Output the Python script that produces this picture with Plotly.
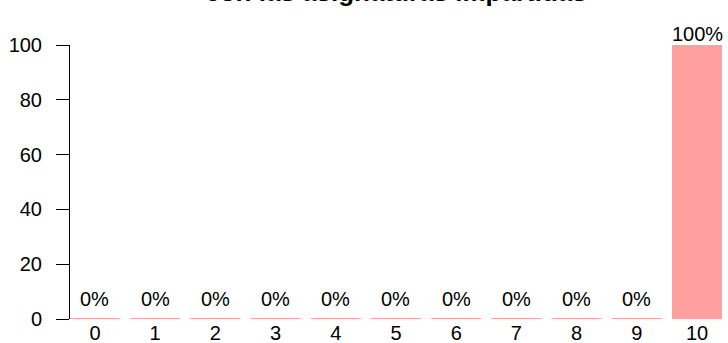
import plotly.graph_objects as go

categories = [0, 1, 2, 3, 4, 5, 6, 7, 8, 9, 10]
percentages = [0, 0, 0, 0, 0, 0, 0, 0, 0, 0, 100]
bar_labels = ["0%", "0%", "0%", "0%", "0%", "0%", "0%", "0%", "0%", "0%", "100%"]
y_ticks = [0, 20, 40, 60, 80, 100]
title_text = "con las asignaturas impartidas"

BAR_COLOR = "#FF9F9F"
FONT = "Liberation Sans, Arial, sans-serif"
HALF_W = 0.415

fig = go.Figure()
fig.add_trace(go.Bar(
    x=categories, y=percentages,
    marker=dict(color=BAR_COLOR, line=dict(width=0)),
    width=2 * HALF_W,
    hoverinfo="skip",
))

# top edges of bars (so zero-height bars show as a line, like R borders)
ex, ey = [], []
for c, v in zip(categories, percentages):
    ex += [c - HALF_W, c + HALF_W, None]
    ey += [v, v, None]
fig.add_trace(go.Scatter(x=ex, y=ey, mode="lines",
                         line=dict(color=BAR_COLOR, width=2),
                         hoverinfo="skip", cliponaxis=False))

for c, v, lab in zip(categories, percentages, bar_labels):
    fig.add_annotation(x=c, y=v, text=lab, showarrow=False,
                       xref="x", yref="y", yanchor="bottom",
                       yshift=7 if v < 50 else -2,
                       font=dict(size=20, color="black", family=FONT))

fig.update_layout(
    width=728, height=343,
    margin=dict(l=70, r=0, t=45, b=24),
    paper_bgcolor="white", plot_bgcolor="white",
    showlegend=False,
    font=dict(family=FONT, size=20, color="black"),
    title=dict(text="<b>" + title_text + "</b>", x=396 / 728, xanchor="center",
               xref="container", yref="container", y=(343 - 1) / 343,
               yanchor="bottom", font=dict(size=26, family=FONT, color="black")),
)
fig.update_xaxes(
    range=[-0.415, 10.515], tickmode="array", tickvals=categories,
    ticktext=[str(c) for c in categories], showline=False, showgrid=False,
    zeroline=False, ticks="", tickfont=dict(size=20, family=FONT),
    automargin=False,
)
fig.update_yaxes(
    range=[0, 100], tickmode="array", tickvals=y_ticks,
    showline=True, linecolor="black", linewidth=1, showgrid=False,
    zeroline=False, ticks="outside", ticklen=13, tickwidth=1,
    tickcolor="black", tickfont=dict(size=20, family=FONT),
    ticklabelstandoff=10, automargin=False,
)

fig.write_html("out.html", config={"displayModeBar": False},
               post_script="document.body.style.margin='0';document.body.style.padding='0';")
